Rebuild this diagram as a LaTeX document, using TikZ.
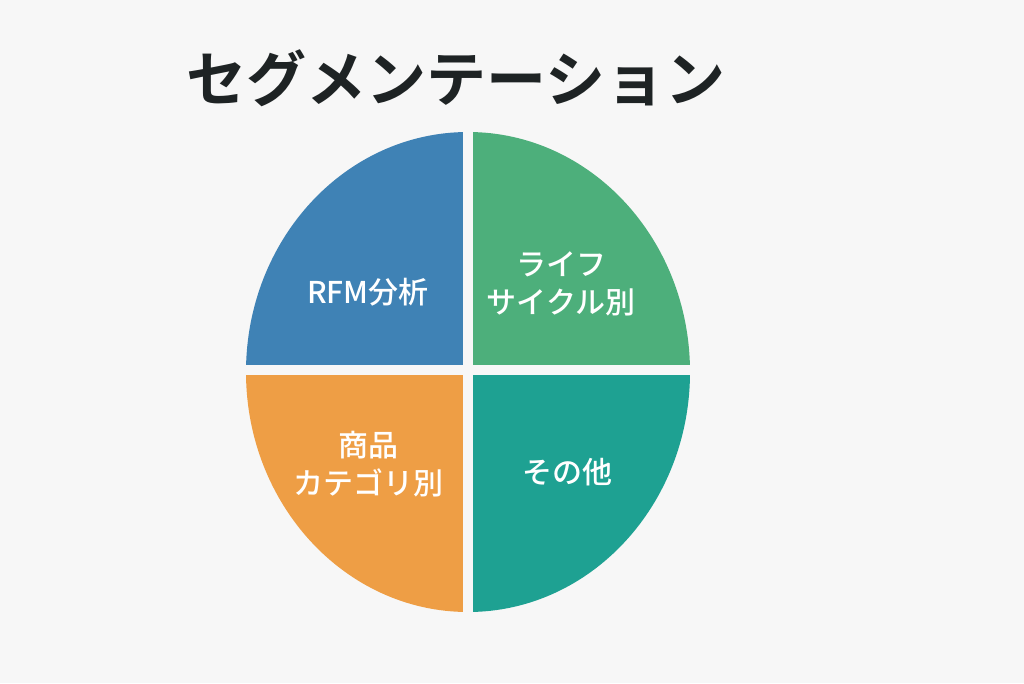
\documentclass[tikz,border=0pt]{standalone}
\usepackage{fontspec}
\newfontfamily\jpb{Noto Sans CJK JP Bold}
\newfontfamily\jpm{Noto Sans CJK JP Medium}
\definecolor{bg}{HTML}{F7F7F7}
\definecolor{qblue}{HTML}{3F82B5}
\definecolor{qgreen}{HTML}{4DAF7B}
\definecolor{qorange}{HTML}{EE9E45}
\definecolor{qteal}{HTML}{1EA192}
\definecolor{ttl}{HTML}{1E2324}
\begin{document}
\begin{tikzpicture}[x=1pt,y=-1pt,
  lbl/.style={text=white,font=\jpm\fontsize{30}{38}\selectfont,align=center}]
\fill[bg] (0,0) rectangle (1024,683);
\useasboundingbox (0,0) rectangle (1024,683);
\foreach \x/\y/\c in {0/0/qblue,468/0/qgreen,0/370/qorange,468/370/qteal}{
  \begin{scope}
    \clip (\x,\y) rectangle ++(468,370);
    \fill[\c] (468,372) ellipse [x radius=222,y radius=240];
  \end{scope}
}
\draw[bg,line width=10pt] (468,120) -- (468,625);
\draw[bg,line width=10pt] (235,370) -- (700,370);
\node[text=ttl,font=\jpb\fontsize{60}{66}\selectfont] (title) at (456,78) {セグメンテーション};
\node[lbl] (rfm) at (368,292) {RFM分析};
\node[lbl] (life) at (561,284) {ライフ\\サイクル別};
\node[lbl] (prod) at (368,464) {商品\\カテゴリ別};
\node[lbl] (other) at (567,472) {その他};
\end{tikzpicture}
\end{document}
